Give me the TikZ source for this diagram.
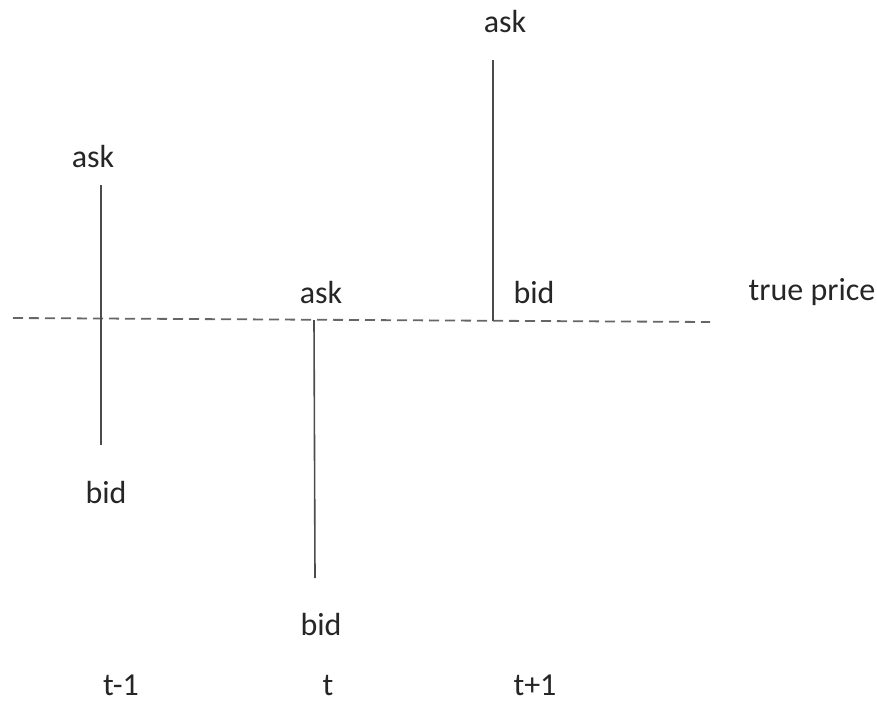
\documentclass[tikz,border=0pt]{standalone}
\usepackage{fontspec}
\setmainfont{Carlito}
\begin{document}
\begin{tikzpicture}[x=1pt,y=-1pt,
  lbl/.style={inner sep=0pt, font=\fontsize{32}{38}\selectfont, text=black!85},
  spread/.style={draw=black!70, line width=1.6pt},
  truth/.style={draw=black!60, line width=1.8pt, dash pattern=on 10pt off 6pt}]
\useasboundingbox (0,0) rectangle (877,702);
% true price level
\coordinate (tpL) at (13,318);
\coordinate (tpR) at (710,322);
\draw[truth] (tpL) -- (tpR);
\node[lbl] (tp) at (812,292) {true price};
% quote at t-1
\coordinate (a1) at (101,185);
\coordinate (b1) at (101,445);
\draw[spread] (a1) -- (b1);
\node[lbl] (ask1) at (93,157) {ask};
\node[lbl] (bid1) at (106,492) {bid};
% quote at t
\coordinate (a2) at (314,320);
\coordinate (b2) at (315,578);
\draw[spread] (a2) -- (b2);
\node[lbl] (ask2) at (321,292) {ask};
\node[lbl] (bid2) at (321,624) {bid};
% quote at t+1
\coordinate (a3) at (493,60);
\coordinate (b3) at (493,321);
\draw[spread] (a3) -- (b3);
\node[lbl] (ask3) at (505,22) {ask};
\node[lbl] (bid3) at (534,292) {bid};
% time axis labels
\node[lbl] (tm1) at (121,685) {t-1};
\node[lbl] (t0) at (328,685) {t};
\node[lbl] (tp1) at (535,685) {t+1};
\end{tikzpicture}
\end{document}
